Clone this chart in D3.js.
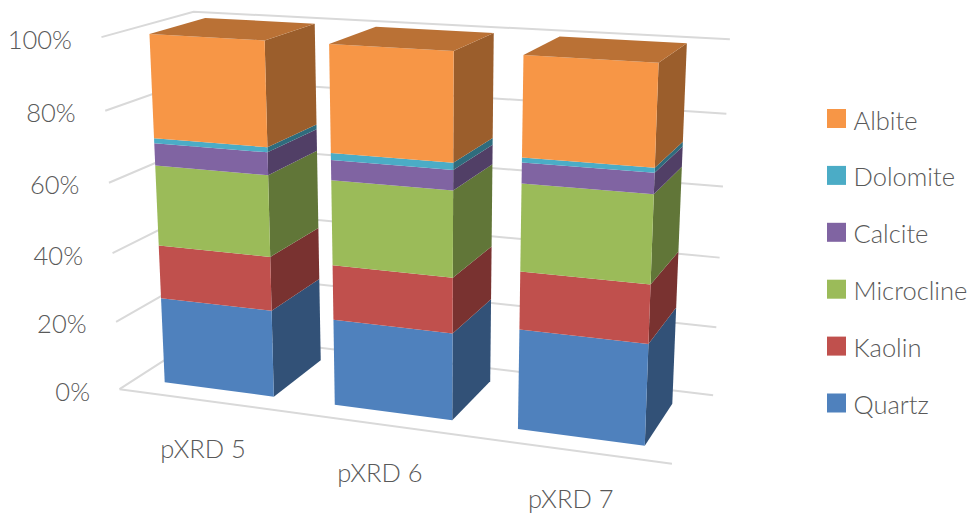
<!DOCTYPE html>
<html>
<head>
<meta charset="utf-8">
<script src="https://cdn.jsdelivr.net/npm/d3@7"></script>
<style>
  html, body { margin: 0; padding: 0; background: #fff; }
  svg { display: block; }
  text { font-family: "Lato", "Open Sans", sans-serif; font-weight: 300; fill: #595959; }
</style>
</head>
<body>
<svg id="chart" width="972" height="513"></svg>
<script>
// Mineral composition per sample, percent of each stack
const samples = ["pXRD 5", "pXRD 6", "pXRD 7"];
const minerals = ["Quartz", "Kaolin", "Microcline", "Calcite", "Dolomite", "Albite"];
const quartz = [25.15, 24.6, 27.8];
const kaolin = [15.45, 15.45, 15.8];
const microcline = [22.9, 23.55, 23.4];
const calcite = [6.3, 5.5, 5.5];
const dolomite = [1.4, 1.9, 1.3];
const albite = [28.8, 29.0, 26.2];
const mineralColors = ["#4F81BD", "#C0504D", "#9BBB59", "#8064A2", "#4BACC6", "#F79646"];
const axisTicks = [0, 0.2, 0.4, 0.6, 0.8, 1];

const seriesValues = [quartz, kaolin, microcline, calcite, dolomite, albite];
const rows = samples.map((s, i) => {
  const row = { sample: s };
  minerals.forEach((m, k) => { row[m] = seriesValues[k][i]; });
  return row;
});
const stacked = d3.stack().keys(minerals).offset(d3.stackOffsetExpand)(rows);

// Pinhole camera fitted to the corners of the plot box: [x, value, depth] -> [px, py]
const boxCorners = [
  [[0, 0, 0], [119, 390]], [[0, 1, 0], [102, 37]],
  [[0, 0, 1], [206, 333]], [[0, 1, 1], [193, 12]],
  [[1, 0, 1], [713, 396]], [[1, 1, 1], [730, 39]],
  [[1, 0, 0], [672, 463]]
];

function solveCamera(pairs) {
  const n = 11;
  const ata = d3.range(n).map(() => new Array(n + 1).fill(0));
  const addRow = (r, b) => {
    for (let i = 0; i < n; i++) {
      for (let j = 0; j < n; j++) ata[i][j] += r[i] * r[j];
      ata[i][n] += r[i] * b;
    }
  };
  pairs.forEach(([[X, Y, Z], [u, v]]) => {
    addRow([X, Y, Z, 1, 0, 0, 0, 0, -u * X, -u * Y, -u * Z], u);
    addRow([0, 0, 0, 0, X, Y, Z, 1, -v * X, -v * Y, -v * Z], v);
  });
  for (let c = 0; c < n; c++) {
    let best = c;
    for (let r = c + 1; r < n; r++) if (Math.abs(ata[r][c]) > Math.abs(ata[best][c])) best = r;
    [ata[c], ata[best]] = [ata[best], ata[c]];
    for (let r = 0; r < n; r++) {
      if (r === c) continue;
      const f = ata[r][c] / ata[c][c];
      for (let k = c; k <= n; k++) ata[r][k] -= f * ata[c][k];
    }
  }
  return ata.map((row, i) => row[n] / row[i]);
}

const cam = solveCamera(boxCorners);
const project = (x, y, z) => {
  const w = cam[8] * x + cam[9] * y + cam[10] * z + 1;
  return [
    (cam[0] * x + cam[1] * y + cam[2] * z + cam[3]) / w,
    (cam[4] * x + cam[5] * y + cam[6] * z + cam[7]) / w
  ];
};

const xBand = d3.scaleBand().domain(samples).range([0, 1]).paddingInner(0.35).paddingOuter(0.175);
const yValue = d3.scaleLinear().domain([0, 1]).range([0, 1]);
const zFront = 0.18, zBack = 0.8;
const tickFormat = d3.format(".0%");
const labelSize = 25.5;

const svg = d3.select("#chart");
const line = d3.line();

// Gridlines along the left wall and back wall
const grid = svg.append("g").attr("fill", "none").attr("stroke", "#D9D9D9").attr("stroke-width", 2);
axisTicks.forEach(t => {
  const v = yValue(t);
  grid.append("path").attr("d", line([project(0, v, 0), project(0, v, 1), project(1, v, 1)]));
});
grid.append("path").attr("d", line([project(0, 0, 0), project(1, 0, 0)]));

// Value axis labels
svg.append("g").selectAll("text").data(axisTicks).join("text")
  .attr("x", d => project(0, yValue(d), 0)[0] - 29.5)
  .attr("y", d => project(0, yValue(d), 0)[1] + 1.5)
  .attr("text-anchor", "end")
  .attr("dominant-baseline", "central")
  .attr("font-size", labelSize)
  .text(tickFormat);

// Stacked boxes, bottom segment first
const bars = svg.append("g");
samples.forEach((s, i) => {
  const x0 = xBand(s), x1 = x0 + xBand.bandwidth();
  stacked.forEach((layer, k) => {
    const y0 = yValue(layer[i][0]), y1 = yValue(layer[i][1]);
    const base = d3.color(mineralColors[k]);
    const seg = bars.append("g").attr("class", "segment");
    seg.append("path")
      .attr("fill", base.darker(1.3))
      .attr("d", line([project(x1, y0, zFront), project(x1, y0, zBack), project(x1, y1, zBack), project(x1, y1, zFront)]) + "Z");
    seg.append("path")
      .attr("fill", base)
      .attr("d", line([project(x0, y0, zFront), project(x1, y0, zFront), project(x1, y1, zFront), project(x0, y1, zFront)]) + "Z");
    if (k === stacked.length - 1) {
      seg.append("path")
        .attr("fill", base.darker(0.8))
        .attr("d", line([project(x0, y1, zFront), project(x1, y1, zFront), project(x1, y1, zBack), project(x0, y1, zBack)]) + "Z");
    }
  });
});

// Sample labels under the floor
svg.append("g").selectAll("text").data(samples).join("text")
  .attr("x", d => project(xBand(d) + xBand.bandwidth() / 2, 0, 0)[0])
  .attr("y", d => project(xBand(d) + xBand.bandwidth() / 2, 0, 0)[1] + 48)
  .attr("text-anchor", "middle")
  .attr("dominant-baseline", "central")
  .attr("font-size", labelSize)
  .text(d => d);

// Legend, top of the stack listed first
const legendOrder = minerals.slice().reverse();
const legendY = d3.scalePoint().domain(legendOrder).range([118.5, 403]);
const legend = svg.append("g").selectAll("g").data(legendOrder).join("g")
  .attr("transform", d => `translate(827,${legendY(d)})`);
legend.append("rect")
  .attr("y", -9.5).attr("width", 19).attr("height", 19)
  .attr("fill", d => mineralColors[minerals.indexOf(d)]);
legend.append("text")
  .attr("x", 26.5).attr("y", 1)
  .attr("dominant-baseline", "central")
  .attr("font-size", labelSize)
  .text(d => d);
</script>
</body>
</html>
